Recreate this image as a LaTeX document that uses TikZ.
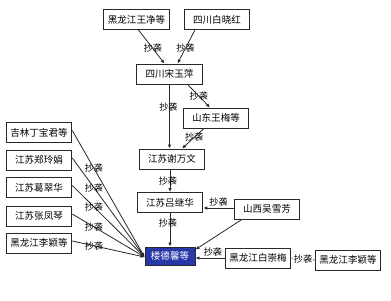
\documentclass[tikz,border=0pt]{standalone}
\usepackage{fontspec}
\setmainfont{Noto Sans CJK SC}
\usetikzlibrary{arrows.meta,positioning}
\definecolor{leadblue}{RGB}{40,56,168}
\definecolor{boxline}{RGB}{40,40,40}
\tikzset{
  person/.style={draw=boxline, line width=.9pt, fill=white,
    minimum width=2.3cm, minimum height=.7cm, inner sep=1pt,
    font=\fontsize{9.5}{11}\selectfont},
  leader/.style={person, fill=leadblue, text=white,
    minimum width=1.75cm, minimum height=.63cm},
  copyedge/.style={draw=boxline, line width=.8pt, -{Latex[length=4pt,width=3.5pt]}},
  copytag/.style={font=\fontsize{9}{10}\selectfont, inner sep=.5pt}
}
\begin{document}
\begin{tikzpicture}[x=.035cm, y=-.035cm]
  \useasboundingbox (0,0) rectangle (391,300);

  % Upper chain.
  \node[person] (wangjing) at (136.5,19.5) {黑龙江王净等};
  \node[person] (baixiao) at (217,19.5) {四川白晓红};
  \node[person] (songyu) at (169.5,74) {四川宋玉萍};
  \node[person] (wangmei) at (216,118) {山东王梅等};
  \node[person] (xiewan) at (172,159) {江苏谢万文};
  \node[person] (lvji) at (170,202.5) {江苏吕继华};
  \node[person] (wuxue) at (267,209) {山西吴雪芳};
  \node[person] (baichong) at (258,258) {黑龙江白崇梅};
  \node[person] (liying) at (348,260) {黑龙江李颖等};
  \node[leader] (leade) at (170,256) {楼德馨等};

  % Left column.
  \node[person] (dingbao) at (39,132.5) {吉林丁宝君等};
  \node[person] (zhengling) at (39,160) {江苏郑玲娟};
  \node[person] (gecui) at (39,187.5) {江苏葛翠华};
  \node[person] (zhangfeng) at (39,216) {江苏张凤琴};
  \node[person] (liyingl) at (39,243) {黑龙江李颖等};

  \draw[copyedge] (wangjing.south) ++(2,0) -- node[copytag, pos=.55] {抄袭} ([xshift=-5pt]songyu.north);
  \draw[copyedge] ([xshift=-22pt]baixiao.south) -- node[copytag, pos=.55] {抄袭} ([xshift=8pt]songyu.north);
  \draw[copyedge] ([xshift=18pt]songyu.south) -- node[copytag, pos=.5] {抄袭} ([xshift=-6pt]wangmei.north);
  \draw[copyedge] (songyu.south) -- node[copytag, pos=.36, xshift=-1pt] {抄袭} (songyu.south |- xiewan.north);
  \draw[copyedge] ([xshift=-12pt]wangmei.south) -- node[copytag, pos=.45] {抄袭} ([xshift=10pt]xiewan.north);
  \draw[copyedge] (lvji.north |- xiewan.south) -- node[copytag, xshift=-2pt] {抄袭} (lvji.north);
  \draw[copyedge] (wuxue.west |- 0,208) -- node[copytag, above=1pt] {抄袭} (lvji.east |- 0,208);
  \draw[copyedge] (lvji.south) -- node[copytag, pos=.3, xshift=-2pt] {抄袭} (lvji.south |- leade.north);
  \draw[copyedge] ([xshift=-25pt]wuxue.south) -- ([yshift=-3pt]leade.north east);
  \draw[copyedge] (baichong.west) -- node[copytag, above=1pt, pos=.4] {抄袭} (baichong.west -| leade.east);
  \draw[copyedge] (liying.west) -- node[copytag, fill=white, pos=.5] {抄袭} (baichong.east);

  % Fan into the leader box.
  \foreach \src in {dingbao,zhengling,gecui,zhangfeng,liyingl}
    \draw[copyedge] ([yshift=2pt]\src.east) -- node[copytag, pos=.3] {抄袭} ([yshift=-1pt]leade.west);
\end{tikzpicture}
\end{document}
